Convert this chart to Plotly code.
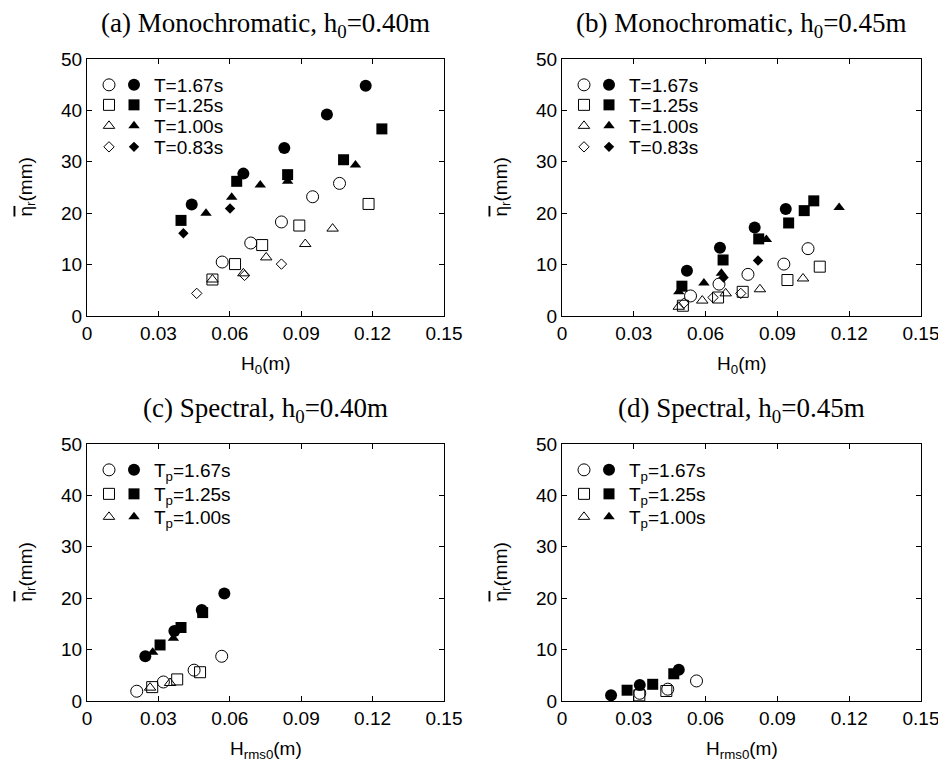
import plotly.graph_objects as go

# ---------------- data ----------------
# Panel (a) Monochromatic h0=0.40m
a_T167_open_x = [0.0568, 0.0688, 0.0817, 0.0948, 0.1061]
a_T167_open_y = [10.5, 14.2, 18.3, 23.2, 25.8]
a_T167_fill_x = [0.0440, 0.0657, 0.0829, 0.1008, 0.1171]
a_T167_fill_y = [21.7, 27.7, 32.7, 39.2, 44.8]
a_T125_open_x = [0.0527, 0.0622, 0.0736, 0.0892, 0.1183]
a_T125_open_y = [7.1, 10.1, 13.8, 17.6, 21.8]
a_T125_fill_x = [0.0395, 0.0629, 0.0843, 0.1078, 0.1239]
a_T125_fill_y = [18.6, 26.2, 27.5, 30.4, 36.4]
a_T100_open_x = [0.0527, 0.0657, 0.0753, 0.0917, 0.1032]
a_T100_open_y = [7.1, 8.3, 11.4, 14.0, 17.0]
a_T100_fill_x = [0.0500, 0.0608, 0.0728, 0.0843, 0.1128]
a_T100_fill_y = [20.0, 23.1, 25.5, 26.2, 29.4]
a_T083_open_x = [0.0461, 0.0662, 0.0817]
a_T083_open_y = [4.4, 7.9, 10.1]
a_T083_fill_x = [0.0405, 0.0601]
a_T083_fill_y = [16.1, 20.9]

# Panel (b) Monochromatic h0=0.45m
b_T167_open_x = [0.0537, 0.0656, 0.0777, 0.0927, 0.1028]
b_T167_open_y = [3.9, 6.2, 8.1, 10.1, 13.1]
b_T167_fill_x = [0.0522, 0.0660, 0.0805, 0.0935]
b_T167_fill_y = [8.8, 13.3, 17.2, 20.8]
b_T125_open_x = [0.0505, 0.0652, 0.0755, 0.0942, 0.1077]
b_T125_open_y = [2.0, 3.6, 4.7, 7.0, 9.6]
b_T125_fill_x = [0.0501, 0.0673, 0.0822, 0.0947, 0.1012, 0.1052]
b_T125_fill_y = [5.8, 10.9, 15.0, 18.1, 20.5, 22.4]
b_T100_open_x = [0.0488, 0.0586, 0.0684, 0.0827, 0.1007]
b_T100_open_y = [1.8, 3.0, 4.4, 5.2, 7.3]
b_T100_fill_x = [0.0488, 0.0593, 0.0666, 0.0854, 0.1158]
b_T100_fill_y = [4.7, 6.4, 8.3, 14.9, 21.1]
b_T083_open_x = [0.0509, 0.0631, 0.0747]
b_T083_open_y = [2.5, 3.6, 4.4]
b_T083_fill_x = [0.0675, 0.0819]
b_T083_fill_y = [7.5, 10.8]

# Panel (c) Spectral h0=0.40m
c_T167_open_x = [0.0209, 0.0321, 0.0450, 0.0566]
c_T167_open_y = [1.9, 3.7, 6.0, 8.7]
c_T167_fill_x = [0.0245, 0.0367, 0.0482, 0.0577]
c_T167_fill_y = [8.7, 13.6, 17.7, 20.9]
c_T125_open_x = [0.0274, 0.0379, 0.0475]
c_T125_open_y = [2.7, 4.2, 5.6]
c_T125_fill_x = [0.0307, 0.0395, 0.0486]
c_T125_fill_y = [10.9, 14.3, 17.2]
c_T100_open_x = [0.0265, 0.0349]
c_T100_open_y = [2.6, 3.5]
c_T100_fill_x = [0.0276, 0.0363]
c_T100_fill_y = [9.5, 12.2]

# Panel (d) Spectral h0=0.45m
d_T167_open_x = [0.0325, 0.0442, 0.0562]
d_T167_open_y = [1.5, 2.3, 3.9]
d_T167_fill_x = [0.0205, 0.0325, 0.0488]
d_T167_fill_y = [1.1, 3.1, 6.1]
d_T125_open_x = [0.0323, 0.0436]
d_T125_open_y = [1.1, 1.95]
d_T125_fill_x = [0.0272, 0.0379, 0.0467]
d_T125_fill_y = [2.1, 3.25, 5.3]
d_T100_open_x = []
d_T100_open_y = []
d_T100_fill_x = []
d_T100_fill_y = []

mono_labels = ["T=1.67s", "T=1.25s", "T=1.00s", "T=0.83s"]
spec_labels = ["T<sub>p</sub>=1.67s", "T<sub>p</sub>=1.25s", "T<sub>p</sub>=1.00s"]
x_ticks = [0, 0.03, 0.06, 0.09, 0.12, 0.15]
x_ticktext = ["0", "0.03", "0.06", "0.09", "0.12", "0.15"]
y_ticks = [0, 10, 20, 30, 40, 50]

panel_titles = ["(a) Monochromatic, h<sub>0</sub>=0.40m",
                "(b) Monochromatic, h<sub>0</sub>=0.45m",
                "(c) Spectral, h<sub>0</sub>=0.40m",
                "(d) Spectral, h<sub>0</sub>=0.45m"]
x_titles = ["H<sub>0</sub>(m)", "H<sub>0</sub>(m)", "H<sub>rms0</sub>(m)", "H<sub>rms0</sub>(m)"]
y_title = "<span style='text-decoration:overline'>η</span><sub>r</sub>(mm)"

panels = [
    [(a_T167_open_x, a_T167_open_y, a_T167_fill_x, a_T167_fill_y),
     (a_T125_open_x, a_T125_open_y, a_T125_fill_x, a_T125_fill_y),
     (a_T100_open_x, a_T100_open_y, a_T100_fill_x, a_T100_fill_y),
     (a_T083_open_x, a_T083_open_y, a_T083_fill_x, a_T083_fill_y)],
    [(b_T167_open_x, b_T167_open_y, b_T167_fill_x, b_T167_fill_y),
     (b_T125_open_x, b_T125_open_y, b_T125_fill_x, b_T125_fill_y),
     (b_T100_open_x, b_T100_open_y, b_T100_fill_x, b_T100_fill_y),
     (b_T083_open_x, b_T083_open_y, b_T083_fill_x, b_T083_fill_y)],
    [(c_T167_open_x, c_T167_open_y, c_T167_fill_x, c_T167_fill_y),
     (c_T125_open_x, c_T125_open_y, c_T125_fill_x, c_T125_fill_y),
     (c_T100_open_x, c_T100_open_y, c_T100_fill_x, c_T100_fill_y)],
    [(d_T167_open_x, d_T167_open_y, d_T167_fill_x, d_T167_fill_y),
     (d_T125_open_x, d_T125_open_y, d_T125_fill_x, d_T125_fill_y),
     (d_T100_open_x, d_T100_open_y, d_T100_fill_x, d_T100_fill_y)],
]
labels_per_panel = [mono_labels, mono_labels, spec_labels, spec_labels]

# ---------------- styling ----------------
PAGE_OFF = 8                      # default page body margin
W, H = 946 - PAGE_OFF, 767 - PAGE_OFF
SANS = "Liberation Sans, Arial, sans-serif"
SERIF = "Liberation Serif, Times New Roman, serif"
symbols = ["circle", "square", "triangle-up", "diamond"]
sizes = [12, 11, 10, 8]


def fx(px):
    return (px - PAGE_OFF) / W


def fy(py):
    return 1 - (py - PAGE_OFF) / H


# screen-pixel boxes for the four plot areas: (left, right, top, bottom)
boxes = [(87, 444, 59, 316), (562, 921, 59, 316),
         (87, 444, 444, 701), (562, 921, 444, 701)]
# legend row centres (px below the plot top) for mono / spectral panels
row_off = [[26, 46, 67, 88], [26, 46, 67, 88], [26, 50, 73], [26, 50, 73]]


def pts(v):
    return v if len(v) else [None]


fig = go.Figure()
annotations = []
layout_extra = {}
leg_count = 0


def new_legend():
    global leg_count
    leg_count += 1
    return "legend" if leg_count == 1 else "legend" + str(leg_count)


LEG_DX = 20   # legend x -> symbol centre offset (px)
LEG_DY = 19   # legend top -> row centre offset (px)
FS = 19

for p, series in enumerate(panels):
    ax = "" if p == 0 else str(p + 1)
    xref, yref = "x" + ax, "y" + ax
    l, r, t, b = boxes[p]
    legfont = dict(family=SANS, size=FS, color="black")
    for i, (ox, oy, fxs, fys) in enumerate(series):
        lo = new_legend()
        lf = new_legend()
        fig.add_trace(go.Scatter(
            x=pts(ox), y=pts(oy), mode="markers", xaxis=xref, yaxis=yref,
            name=" ", legend=lo,
            marker=dict(symbol=symbols[i] + "-open", size=sizes[i], color="black",
                        line=dict(width=1, color="black"))))
        fig.add_trace(go.Scatter(
            x=pts(fxs), y=pts(fys), mode="markers", xaxis=xref, yaxis=yref,
            name=labels_per_panel[p][i], legend=lf,
            marker=dict(symbol=symbols[i], size=sizes[i], color="black",
                        line=dict(width=0))))
        ytop = fy(t + row_off[p][i] - LEG_DY)
        layout_extra[lo] = dict(x=fx(l + 22 - LEG_DX), y=ytop, xanchor="left",
                                yanchor="top", bgcolor="rgba(0,0,0,0)", borderwidth=0,
                                font=legfont, itemclick=False, itemdoubleclick=False)
        layout_extra[lf] = dict(x=fx(l + 47 - LEG_DX), y=ytop, xanchor="left",
                                yanchor="top", bgcolor="rgba(0,0,0,0)", borderwidth=0,
                                font=legfont, itemclick=False, itemdoubleclick=False)
    common = dict(showline=True, linecolor="black", linewidth=1, mirror="ticks",
                  ticks="inside", ticklen=5, tickcolor="black", showgrid=False,
                  zeroline=False, automargin=False,
                  tickfont=dict(family=SANS, size=FS, color="black"))
    layout_extra["xaxis" + ax] = dict(domain=[fx(l), fx(r)], range=[0, 0.15],
                                      tickvals=x_ticks, ticktext=x_ticktext,
                                      anchor=yref, **common)
    layout_extra["yaxis" + ax] = dict(domain=[fy(b), fy(t)], range=[0, 50],
                                      tickvals=y_ticks, anchor=xref, **common)
    cx = fx((l + r) / 2)
    annotations.append(dict(text=panel_titles[p], x=cx, y=fy(t - 34),
                            xref="paper", yref="paper", showarrow=False,
                            xanchor="center", yanchor="middle",
                            font=dict(family=SERIF, size=27, color="black")))
    annotations.append(dict(text=x_titles[p], x=cx, y=fy(b + 49),
                            xref="paper", yref="paper", showarrow=False,
                            xanchor="center", yanchor="middle",
                            font=dict(family=SANS, size=FS, color="black")))
    annotations.append(dict(text=y_title, x=fx(l - 61), y=fy((t + b) / 2),
                            xref="paper", yref="paper", showarrow=False,
                            xanchor="center", yanchor="middle", textangle=-90,
                            font=dict(family=SANS, size=FS, color="black")))

fig.update_layout(template="none", width=W, height=H,
                  margin=dict(l=0, r=0, t=0, b=0, autoexpand=False),
                  paper_bgcolor="white", plot_bgcolor="white",
                  showlegend=True, annotations=annotations, **layout_extra)
fig.write_html("out.html")
